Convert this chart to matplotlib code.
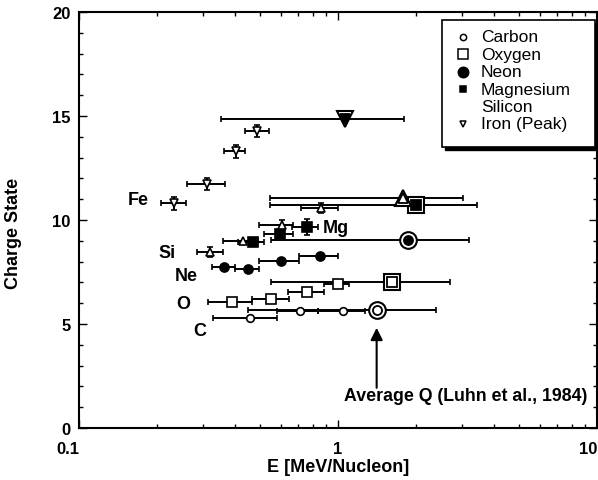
import matplotlib.pyplot as plt
from matplotlib.lines import Line2D
from matplotlib.patches import Rectangle
import numpy as np

plt.rcParams['font.family'] = ['Liberation Sans', 'DejaVu Sans']
plt.rcParams['font.weight'] = 'bold'

# energy (MeV/nucleon), charge state, energy bin edges, charge error
c_e = [0.457, 0.713, 1.05]
c_q = [5.29, 5.63, 5.62]
c_lo = [0.33, 0.58, 0.84]
c_hi = [0.58, 0.84, 1.27]

o_e = [0.39, 0.551, 0.759, 1.0]
o_q = [6.06, 6.2, 6.54, 6.92]
o_lo = [0.315, 0.466, 0.64, 0.88]
o_hi = [0.466, 0.647, 0.88, 1.1]

ne_e = [0.363, 0.45, 0.603, 0.852]
ne_q = [7.74, 7.64, 8.03, 8.27]
ne_lo = [0.326, 0.40, 0.495, 0.707]
ne_hi = [0.40, 0.495, 0.707, 1.0]

mg_e = [0.47, 0.597, 0.759]
mg_q = [8.94, 9.33, 9.66]
mg_lo = [0.41, 0.518, 0.664]
mg_hi = [0.52, 0.67, 0.837]
mg_dq = [0.0, 0.0, 0.4]

si_e = [0.321, 0.43, 0.608, 0.86]
si_q = [8.46, 8.99, 9.76, 10.58]
si_lo = [0.285, 0.36, 0.495, 0.72]
si_hi = [0.36, 0.49, 0.67, 1.0]
si_dq = [0.25, 0.0, 0.25, 0.25]

fe_e = [0.233, 0.312, 0.404, 0.487]
fe_q = [10.8, 11.73, 13.3, 14.28]
fe_lo = [0.207, 0.261, 0.363, 0.438]
fe_hi = [0.259, 0.366, 0.438, 0.541]
fe_dq = [0.3, 0.3, 0.3, 0.3]

# average Q (Luhn et al., 1984): C, O, Ne, Mg, Si, Fe
avg_e = [1.41, 1.61, 1.86, 2.0, 1.78, 1.064]
avg_q = [5.67, 7.02, 9.04, 10.72, 11.06, 14.86]
avg_lo = [0.45, 0.55, 0.55, 0.547, 0.547, 0.354]
avg_hi = [2.39, 2.7, 3.2, 3.45, 3.03, 1.80]

# element labels
labels = ['Fe', 'Si', 'Ne', 'O', 'C', 'Mg']
lab_x = [0.169, 0.219, 0.259, 0.252, 0.293, 0.98]
lab_y = [11.0, 8.46, 7.31, 6.0, 4.71, 9.66]

names = ['Carbon', 'Oxygen', 'Neon', 'Magnesium', 'Silicon', 'Iron (Peak)']

W, H = 598, 481
fig = plt.figure(figsize=(W / 100, H / 100), dpi=100)
ax = fig.add_axes([79 / W, 1 - 429 / H, 518 / W, 416 / H])

def series(e, q, lo, hi, dq, marker, fill, ms):
    e = np.array(e)
    xerr = [e - np.array(lo), np.array(hi) - e]
    ax.errorbar(e, q, xerr=xerr, yerr=dq, fmt='none', ecolor='black',
                elinewidth=1.4, capsize=2.5, capthick=1.2, zorder=2)
    ax.plot(e, q, linestyle='none', marker=marker, ms=ms, mec='black',
            mew=1.2, mfc='black' if fill else 'white', zorder=3)

series(c_e, c_q, c_lo, c_hi, None, 'o', False, 5.5)
series(o_e, o_q, o_lo, o_hi, None, 's', False, 6.5)
series(ne_e, ne_q, ne_lo, ne_hi, None, 'o', True, 6.5)
series(mg_e, mg_q, mg_lo, mg_hi, mg_dq, 's', True, 6.5)
series(si_e, si_q, si_lo, si_hi, si_dq, '^', False, 6)
series(fe_e, fe_q, fe_lo, fe_hi, fe_dq, 'v', False, 6)

# average charge states, big double markers
ae = np.array(avg_e)
ax.errorbar(ae, avg_q, xerr=[ae - np.array(avg_lo), np.array(avg_hi) - ae],
            fmt='none', ecolor='black', elinewidth=1.4, capsize=2.5,
            capthick=1.2, zorder=2)
shape = ['o', 's', 'o', 's', '^', 'v']
inner_fill = [False, False, True, True, False, True]
for i in range(len(avg_e)):
    ax.plot(avg_e[i], avg_q[i], marker=shape[i], ms=12, mfc='white',
            mec='black', mew=1.5, linestyle='none', zorder=4)
    ax.plot(avg_e[i], avg_q[i], marker=shape[i], ms=6.5, mec='black', mew=1.3,
            mfc='black' if inner_fill[i] else 'white', linestyle='none',
            zorder=5)

for t, x, y in zip(labels, lab_x, lab_y):
    ax.text(x, y, t, fontsize=13, fontweight='bold', ha='center', va='center')

ax.annotate('', xy=(1.41, 4.95), xytext=(1.41, 1.8),
            arrowprops=dict(arrowstyle='-|>', color='black', lw=1.5,
                            mutation_scale=18))
ax.text(3.1, 1.55, 'Average Q (Luhn et al., 1984)', fontsize=12.8,
        fontweight='bold', ha='center', va='center')

ax.set_xscale('log')
ax.set_xlim(0.1, 10)
ax.set_ylim(0, 20)
ax.set_yticks([0, 5, 10, 15, 20])
ax.set_yticks(np.arange(0, 21, 1), minor=True)
ax.set_xticks([0.1, 1, 10])
ax.set_xticklabels(['0.1', '1', '10'])
ax.tick_params(which='both', direction='in', top=True, right=True,
               labelsize=12, width=1)
ax.tick_params(which='major', length=6)
ax.tick_params(which='minor', length=3)
ax.tick_params(axis='x', pad=9.5)
ax.tick_params(axis='y', pad=6)
xt = ax.get_xticklabels()
xt[0].set_ha('right')
xt[2].set_ha('right')
for s in ax.spines.values():
    s.set_linewidth(1.5)
ax.set_xlabel('E [MeV/Nucleon]', fontsize=13, fontweight='bold', labelpad=1)
ax.set_ylabel('Charge State', fontsize=13, fontweight='bold')
ax.yaxis.set_label_coords(-0.11, 0.47)

# legend box with drop shadow, drawn in figure pixels
def fx(px):
    return px / W

def fy(py):
    return 1 - py / H

fig.patches.append(Rectangle((fx(445), fy(151)), (595 - 442) / W, (148 - 21) / H,
                             transform=fig.transFigure, facecolor='black',
                             edgecolor='black', zorder=5))
fig.patches.append(Rectangle((fx(442), fy(148)), (595 - 442) / W, (148 - 21) / H,
                             transform=fig.transFigure, facecolor='white',
                             edgecolor='black', linewidth=1.2, zorder=6))
leg_marker = ['o', 's', 'o', 's', None, 'v']
leg_fill = [False, False, True, True, False, False]
leg_ms = [4.5, 7, 7.5, 5, 0, 4.5]
for i, name in enumerate(names):
    yy = fy(38 + i * 17.4)
    if leg_marker[i] is not None:
        fig.add_artist(Line2D([fx(463)], [yy], marker=leg_marker[i], ms=leg_ms[i],
                              mfc='black' if leg_fill[i] else 'white',
                              mec='black', mew=1.1, ls='none', zorder=7))
    fig.text(fx(481), yy, name, fontsize=12.5, fontweight='normal',
             ha='left', va='center', zorder=7)

fig.savefig('out.png', dpi=100)
